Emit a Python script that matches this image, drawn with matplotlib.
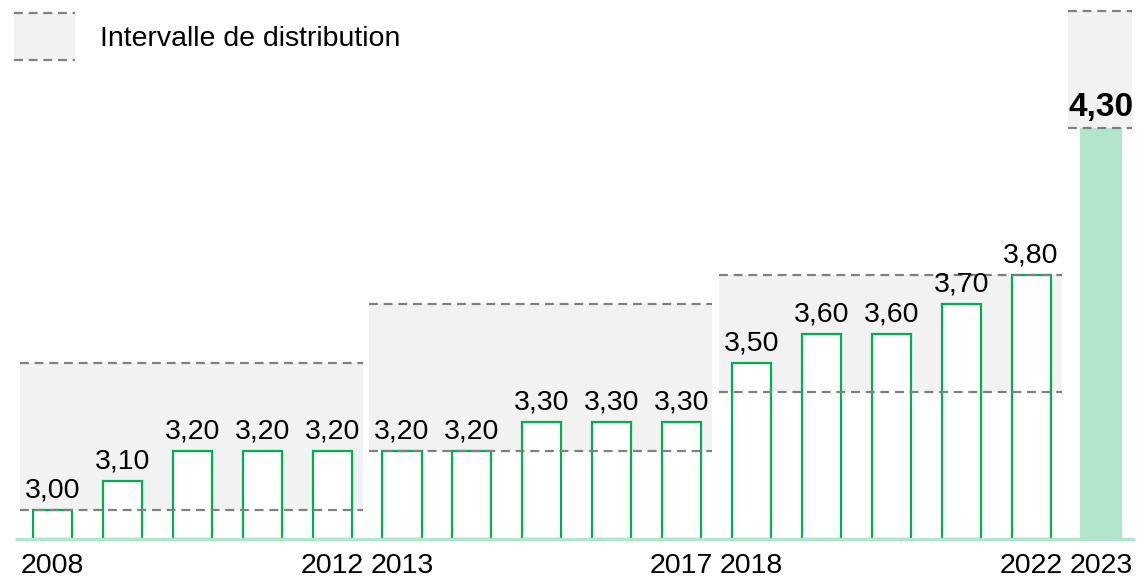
import matplotlib
matplotlib.use("Agg")
import matplotlib.pyplot as plt
import matplotlib.patches as mpatches
import numpy as np

plt.rcParams["font.family"] = ["Liberation Sans", "DejaVu Sans"]

# data
years = [2008, 2009, 2010, 2011, 2012, 2013, 2014, 2015, 2016, 2017,
         2018, 2019, 2020, 2021, 2022, 2023]
values = [3.00, 3.10, 3.20, 3.20, 3.20, 3.20, 3.20, 3.30, 3.30, 3.30,
          3.50, 3.60, 3.60, 3.70, 3.80, 4.30]
shown_years = [2008, 2012, 2013, 2017, 2018, 2022, 2023]

# distribution intervals per period
band_start = [2008, 2013, 2018, 2023]
band_end = [2012, 2017, 2022, 2023]
band_low = [3.00, 3.20, 3.40, 4.30]
band_high = [3.50, 3.70, 3.80, 4.70]

base_value = 2.90
legend_label = "Intervalle de distribution"

GREEN = "#00b050"
MINT = "#b2e6cb"
BAND = "#f2f2f2"
DASH = "#808080"

fig = plt.figure(figsize=(11.39, 5.79), dpi=100)
ax = fig.add_axes([0, 0, 1, 1])
ax.set_xlim(-0.751, 15.544)
ax.set_ylim(2.765, 4.736)
ax.axis("off")

x = np.arange(len(years))
idx = {y: i for i, y in enumerate(years)}

# interval bands
for s, e, lo, hi in zip(band_start, band_end, band_low, band_high):
    x0 = idx[s] - 0.47
    x1 = idx[e] + 0.44
    ax.add_patch(mpatches.Rectangle((x0, lo), x1 - x0, hi - lo,
                                    facecolor=BAND, edgecolor="none", zorder=1))
    for yv in (lo, hi):
        ax.plot([x0, x1], [yv, yv], color=DASH, lw=1.6,
                linestyle=(0, (4, 2.6)), zorder=4)

# bars
heights = [v - base_value for v in values]
last = len(values) - 1
for i, h in enumerate(heights):
    if i == last:
        ax.bar(x[i], h, bottom=base_value, width=0.59, color=MINT,
               edgecolor="none", zorder=2)
    else:
        ax.bar(x[i], h, bottom=base_value, width=0.56, color="white",
               edgecolor=GREEN, linewidth=1.6, zorder=3)

# baseline
ax.plot([-0.54, 15.49], [base_value, base_value], color=MINT, lw=2.4,
        zorder=5, solid_capstyle="butt")

# value labels
for i, v in enumerate(values):
    txt = f"{v:.2f}".replace(".", ",")
    if i == last:
        ax.annotate(txt, (x[i], v), xytext=(0, 9), textcoords="offset points",
                    ha="center", va="baseline", fontsize=24,
                    fontweight="bold", zorder=6)
    else:
        ax.annotate(txt, (x[i], v), xytext=(0, 9), textcoords="offset points",
                    ha="center", va="baseline", fontsize=20.5, zorder=6)

# year labels
for y in shown_years:
    ax.annotate(str(y), (idx[y], base_value), xytext=(0, -24.5),
                textcoords="offset points", ha="center", va="baseline",
                fontsize=20.5)

# legend
lx0, lx1 = 14 / 1139, 75 / 1139
ly0, ly1 = 1 - 60 / 579, 1 - 13 / 579
ax.add_patch(mpatches.Rectangle((lx0, ly0), lx1 - lx0, ly1 - ly0,
                                transform=ax.transAxes, facecolor=BAND,
                                edgecolor="none", zorder=1))
for yy in (ly0, ly1):
    ax.plot([lx0, lx1], [yy, yy], transform=ax.transAxes, color=DASH,
            lw=1.6, linestyle=(0, (4, 2.6)), zorder=4)
ax.text(100 / 1139, 1 - 39 / 579, legend_label, transform=ax.transAxes,
        ha="left", va="center", fontsize=20.5)

fig.savefig("out.png", dpi=100)
